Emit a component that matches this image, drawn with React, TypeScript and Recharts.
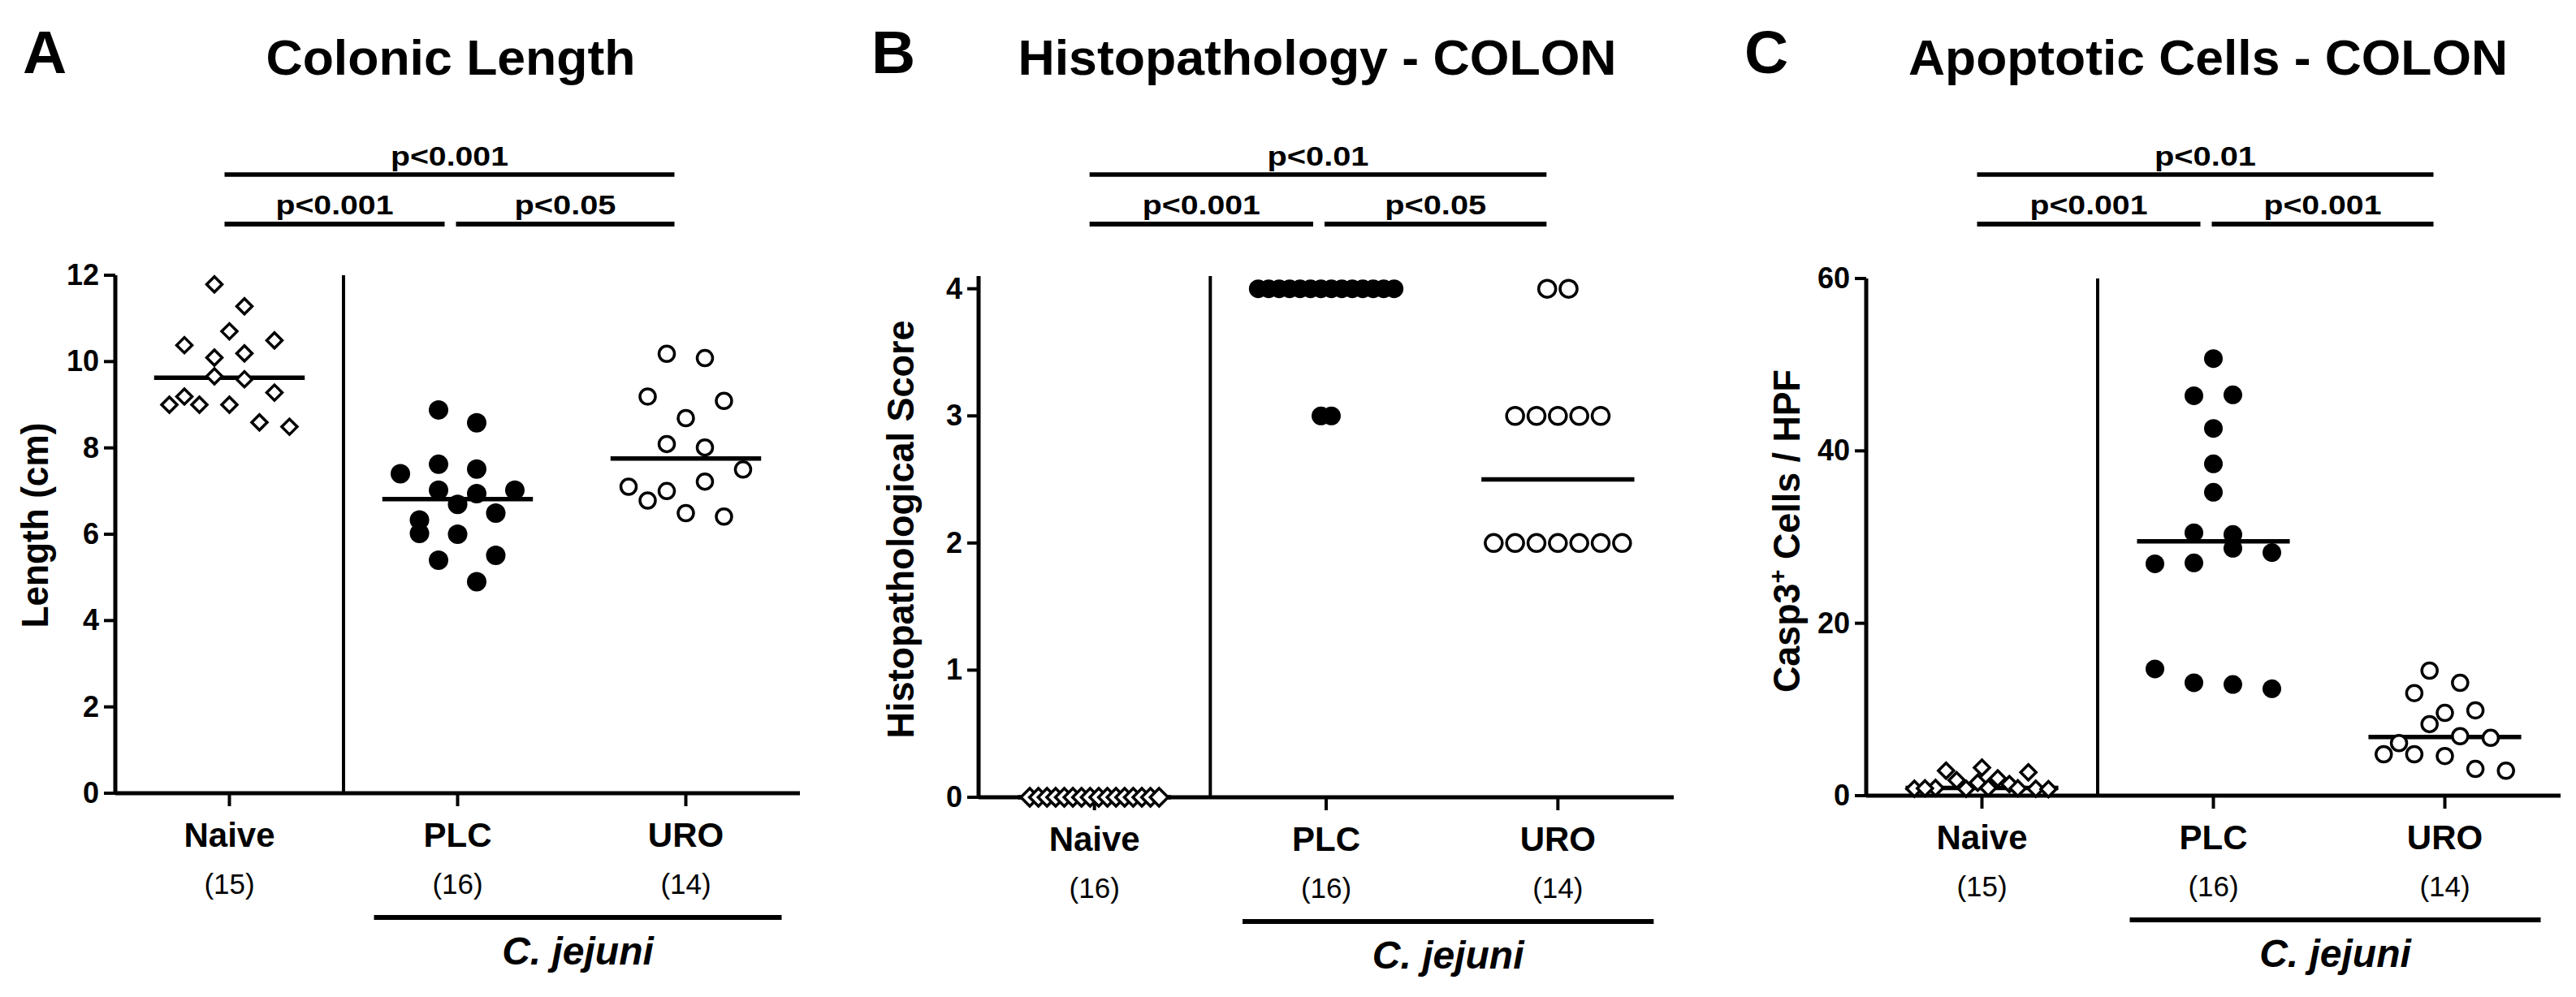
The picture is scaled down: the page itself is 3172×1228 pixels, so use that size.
import React from 'react';
import { ScatterChart, Scatter, XAxis, YAxis, ReferenceLine } from 'recharts';

const FONT = 'Arial, "Liberation Sans", Helvetica, sans-serif';
const W = 3172;
const H = 1228;

const groups = ['Naive', 'PLC', 'URO'];

// A - colonic length (cm); *Col = column slot of each point inside its group
const lengthNaive = [11.79, 11.28, 10.7, 10.49, 10.38, 10.09, 10.19, 9.66, 9.59, 9.28, 9.19, 9.0, 9.0, 9.0, 8.59, 8.49];
const lengthNaiveCol = [-1, 1, 0, 3, -3, -1, 1, -1, 1, 3, -3, -4, -2, 0, 2, 4];
const lengthPLC = [8.88, 8.58, 7.4, 7.62, 7.51, 7.02, 6.94, 7.02, 6.69, 6.49, 6.33, 6.02, 6.0, 5.4, 5.51, 4.9];
const lengthPLCCol = [-1, 1, -3, -1, 1, -1, 1, 3, 0, 2, -2, -2, 0, -1, 2, 1];
const lengthURO = [10.18, 10.08, 9.19, 9.09, 8.69, 8.09, 8.01, 7.5, 7.1, 6.78, 7.0, 7.22, 6.49, 6.41];
const lengthUROCol = [-1, 1, -2, 2, 0, -1, 1, 3, -3, -2, -1, 1, 0, 2];
const lengthN = [15, 16, 14];

// B - histopathological score
const histoNaive = [0, 0, 0, 0, 0, 0, 0, 0, 0, 0, 0, 0, 0, 0, 0, 0];
const histoPLC = [4, 4, 4, 4, 4, 4, 4, 4, 4, 4, 4, 4, 4, 4, 3, 3];
const histoURO = [4, 4, 3, 3, 3, 3, 3, 2, 2, 2, 2, 2, 2, 2];
const histoN = [16, 16, 14];

// C - Casp3+ cells / HPF
const caspNaive = [2.9, 3.25, 2.7, 1.8, 2.0, 1.5, 1.35, 0.9, 0.8, 0.85, 0.8, 0.9, 0.85, 0.8, 0.75];
const caspNaiveCol = [-3.4, 0, 4.4, -2.4, 1.5, -0.4, 2.6, -4.4, -6.4, -5.4, -1.5, 0.6, 3.4, 5.1, 6.3];
const caspPLC = [50.7, 46.4, 46.5, 42.6, 38.5, 35.2, 30.5, 30.3, 28.7, 28.2, 26.9, 27.0, 14.7, 13.1, 12.9, 12.4];
const caspPLCCol = [0, -1, 1, 0, 0, 0, -1, 1, 1, 3, -3, -1, -3, -1, 1, 3];
const caspURO = [14.5, 13.1, 11.9, 9.6, 9.9, 8.3, 6.1, 6.9, 6.7, 4.8, 4.8, 4.6, 3.1, 2.9];
const caspUROCol = [-1, 1, -2, 0, 2, -1, -3, 1, 3, -4, -2, 0, 2, 4];
const caspN = [15, 16, 14];

const median = (v: number[]) => {
  const s = [...v].sort((a, b) => a - b);
  const m = Math.floor(s.length / 2);
  return s.length % 2 ? s[m] : (s[m - 1] + s[m]) / 2;
};

// equal scores sit side by side in a centred row
const rowCols = (v: number[]) =>
  v.map((val, k) => {
    const same = v.filter((u) => u === val).length;
    const idx = v.slice(0, k).filter((u) => u === val).length;
    return idx - (same - 1) / 2;
  });

const toPoints = (group: number, values: number[], cols: number[], step: number) =>
  values.map((y, k) => ({ x: group + cols[k] * step, y }));

const diamond = (h: number, sw: number) => (p: any) => (
  <polygon
    points={`${p.cx},${p.cy - h} ${p.cx + h},${p.cy} ${p.cx},${p.cy + h} ${p.cx - h},${p.cy}`}
    fill="#fff"
    stroke="#000"
    strokeWidth={sw}
  />
);
const dot = (r: number) => (p: any) => <circle cx={p.cx} cy={p.cy} r={r} fill="#000" />;
const ring = (r: number, sw: number) => (p: any) => (
  <circle cx={p.cx} cy={p.cy} r={r} fill="#fff" stroke="#000" strokeWidth={sw} />
);

const Y_W = 80;
const X_H = 200;

const YTick = (props: any) => (
  <text x={props.x} y={props.y} dy={12} textAnchor="end" fontSize={36} fontWeight="bold" fontFamily={FONT} fill="#000">
    {props.payload.value}
  </text>
);

const makeXTick = (counts: number[]) => (props: any) => {
  const i = Math.round(props.payload.value);
  return (
    <g>
      <text x={props.x} y={props.y + 50} textAnchor="middle" fontSize={42} fontWeight="bold" fontFamily={FONT} fill="#000">
        {groups[i]}
      </text>
      <text x={props.x} y={props.y + 108} textAnchor="middle" fontSize={35} fontFamily={FONT} fill="#000">
        ({counts[i]})
      </text>
    </g>
  );
};

type Series = { values: number[]; cols: number[]; step: number; shape: any };

type Panel = {
  letter: string;
  letterX: number;
  title: string;
  titleX: number;
  titleW: number;
  yLabel: React.ReactNode;
  yLabelX: number;
  yLabelY: number;
  yLabelW: number;
  pTop: string;
  pLeft: string;
  pRight: string;
  chartLeft: number;
  chartWidth: number;
  plotLeft: number;
  plotRight: number;
  plotTop: number;
  plotBottom: number;
  yDomain: [number, number];
  yTicks: number[];
  counts: number[];
  series: Series[];
};

const panels: Panel[] = [
  {
    letter: 'A', letterX: 28, title: 'Colonic Length', titleX: 555, titleW: 455,
    yLabel: 'Length (cm)', yLabelX: 59, yLabelY: 647, yLabelW: 253,
    pTop: 'p<0.001', pLeft: 'p<0.001', pRight: 'p<0.05',
    chartLeft: 0, chartWidth: 1050, plotLeft: 142, plotRight: 985, plotTop: 339, plotBottom: 977,
    yDomain: [0, 12], yTicks: [0, 2, 4, 6, 8, 10, 12], counts: lengthN,
    series: [
      { values: lengthNaive, cols: lengthNaiveCol, step: 0.0658, shape: diamond(9.5, 3.5) },
      { values: lengthPLC, cols: lengthPLCCol, step: 0.0836, shape: dot(12) },
      { values: lengthURO, cols: lengthUROCol, step: 0.0836, shape: ring(9.5, 3.5) },
    ],
  },
  {
    letter: 'B', letterX: 1073, title: 'Histopathology - COLON', titleX: 1622, titleW: 737,
    yLabel: 'Histopathological Score', yLabelX: 1125, yLabelY: 652, yLabelW: 515,
    pTop: 'p<0.01', pLeft: 'p<0.001', pRight: 'p<0.05',
    chartLeft: 1050, chartWidth: 1050, plotLeft: 1205, plotRight: 2061, plotTop: 340, plotBottom: 982,
    yDomain: [0, 4.1], yTicks: [0, 1, 2, 3, 4], counts: histoN,
    series: [
      { values: histoNaive, cols: rowCols(histoNaive), step: 0.0372, shape: diamond(11, 3.5) },
      { values: histoPLC, cols: rowCols(histoPLC), step: 0.0451, shape: dot(11.5) },
      { values: histoURO, cols: rowCols(histoURO), step: 0.0923, shape: ring(10.5, 3.5) },
    ],
  },
  {
    letter: 'C', letterX: 2148, title: 'Apoptotic Cells - COLON', titleX: 2719, titleW: 738,
    yLabel: (
      <>
        Casp3
        <tspan dy={-17} fontSize={30}>+</tspan>
        <tspan dy={17}> Cells / HPF</tspan>
      </>
    ),
    yLabelX: 2216, yLabelY: 654, yLabelW: 398,
    pTop: 'p<0.01', pLeft: 'p<0.001', pRight: 'p<0.001',
    chartLeft: 2100, chartWidth: 1072, plotLeft: 2298, plotRight: 3153, plotTop: 343, plotBottom: 980,
    yDomain: [0, 60], yTicks: [0, 20, 40, 60], counts: caspN,
    series: [
      { values: caspNaive, cols: caspNaiveCol, step: 0.0456, shape: diamond(9.5, 3.5) },
      { values: caspPLC, cols: caspPLCCol, step: 0.0842, shape: dot(11.5) },
      { values: caspURO, cols: caspUROCol, step: 0.066, shape: ring(9.5, 3.5) },
    ],
  },
];

// width of a p-value label in the figure (its font is a little wider than Arial)
const pWidth = (s: string) => (s.length >= 7 ? 145 : 125);

const PanelChart = ({ p }: { p: Panel }) => {
  const margin = {
    top: p.plotTop,
    left: p.plotLeft - p.chartLeft - Y_W,
    right: p.chartLeft + p.chartWidth - p.plotRight,
    bottom: H - p.plotBottom - X_H,
  };
  return (
    <div style={{ position: 'absolute', left: p.chartLeft, top: 0 }}>
      <ScatterChart width={p.chartWidth} height={H} margin={margin}>
        <XAxis
          type="number"
          dataKey="x"
          domain={[-0.5, 2.5]}
          ticks={[0, 1, 2]}
          interval={0}
          height={X_H}
          tickSize={16}
          tickMargin={0}
          axisLine={{ stroke: '#000', strokeWidth: 5 }}
          tickLine={{ stroke: '#000', strokeWidth: 4 }}
          tick={makeXTick(p.counts)}
        />
        <YAxis
          type="number"
          dataKey="y"
          domain={p.yDomain}
          ticks={p.yTicks}
          interval={0}
          width={Y_W}
          tickSize={14}
          tickMargin={6}
          axisLine={{ stroke: '#000', strokeWidth: 5 }}
          tickLine={{ stroke: '#000', strokeWidth: 4 }}
          tick={YTick}
        />
        <ReferenceLine x={0.5} stroke="#000" strokeWidth={4} />
        {p.series.map((s, g) => (
          <Scatter
            key={g}
            data={toPoints(g, s.values, s.cols, s.step)}
            shape={s.shape}
            isAnimationActive={false}
          />
        ))}
        {p.series.map((s, g) => (
          <ReferenceLine
            key={`m${g}`}
            segment={[
              { x: g - 0.33, y: median(s.values) },
              { x: g + 0.33, y: median(s.values) },
            ]}
            stroke="#000"
            strokeWidth={5.5}
          />
        ))}
      </ScatterChart>
    </div>
  );
};

const Annotations = ({ p }: { p: Panel }) => {
  const band = (p.plotRight - p.plotLeft) / 3;
  const c = [0, 1, 2].map((i) => p.plotLeft + (i + 0.5) * band);
  const start = c[0] - 6;
  const end = c[2] - 14;
  const splitL = c[1] - 16;
  const splitR = c[1] - 2;
  const jLeft = c[1] - 103;
  const jRight = c[2] + 118;
  const txt = { fontFamily: FONT, fill: '#000', textAnchor: 'middle' as const };
  const pText = (s: string, x: number, y: number) => (
    <text {...txt} x={x} y={y} fontSize={33} fontWeight="bold" textLength={pWidth(s)} lengthAdjust="spacingAndGlyphs">
      {s}
    </text>
  );
  return (
    <g>
      <text x={p.letterX} y={90} fontSize={75} fontWeight="bold" fontFamily={FONT} fill="#000">
        {p.letter}
      </text>
      <text {...txt} x={p.titleX} y={92} fontSize={61} fontWeight="bold" textLength={p.titleW} lengthAdjust="spacingAndGlyphs">
        {p.title}
      </text>
      {pText(p.pTop, (start + end) / 2, 204)}
      <line x1={start} x2={end} y1={215} y2={215} stroke="#000" strokeWidth={5.5} />
      {pText(p.pLeft, (start + splitL) / 2, 264)}
      {pText(p.pRight, (splitR + end) / 2, 264)}
      <line x1={start} x2={splitL} y1={276} y2={276} stroke="#000" strokeWidth={6} />
      <line x1={splitR} x2={end} y1={276} y2={276} stroke="#000" strokeWidth={6} />
      <text
        {...txt}
        x={p.yLabelX}
        y={p.yLabelY}
        fontSize={46}
        fontWeight="bold"
        textLength={p.yLabelW}
        lengthAdjust="spacingAndGlyphs"
        transform={`rotate(-90 ${p.yLabelX} ${p.yLabelY})`}
      >
        {p.yLabel}
      </text>
      <line x1={jLeft} x2={jRight} y1={p.plotBottom + 153} y2={p.plotBottom + 153} stroke="#000" strokeWidth={6} />
      <text {...txt} x={(jLeft + jRight) / 2} y={p.plotBottom + 211} fontSize={48} fontWeight="bold" fontStyle="italic">
        C. jejuni
      </text>
    </g>
  );
};

export default function App() {
  return (
    <div style={{ position: 'absolute', left: 0, top: 0, width: W, height: H, background: '#fff' }}>
      {panels.map((p) => (
        <PanelChart key={p.letter} p={p} />
      ))}
      <svg width={W} height={H} style={{ position: 'absolute', left: 0, top: 0, pointerEvents: 'none' }}>
        {panels.map((p) => (
          <Annotations key={p.letter} p={p} />
        ))}
      </svg>
    </div>
  );
}
